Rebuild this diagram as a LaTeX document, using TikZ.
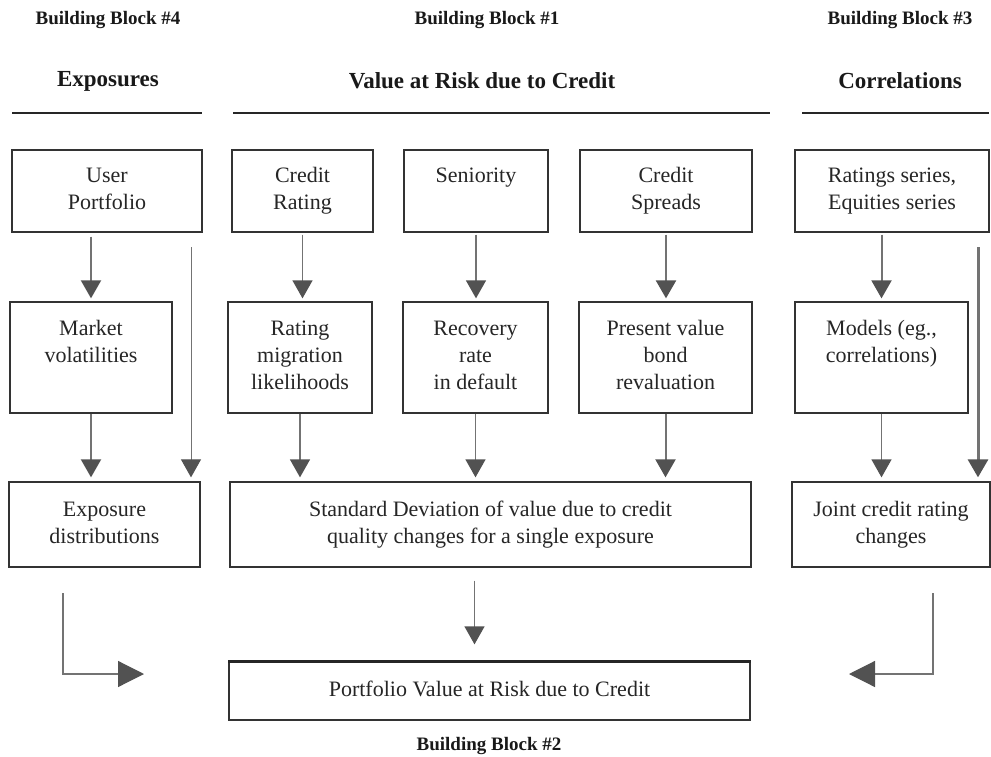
\documentclass[tikz,border=0pt]{standalone}
\usepackage{fontspec}
\setmainfont{Liberation Serif}
\usetikzlibrary{arrows.meta,calc}
\begin{document}
\begin{tikzpicture}[x=1pt,y=-1pt,
  box/.style={draw=black!80, line width=1.3pt, align=center, inner sep=0pt,
    font=\fontsize{22}{27}\selectfont, text=black!85},
  arr/.style={draw=black!55, line width=1.3pt,
    -{Triangle[length=18pt,width=20pt,color=black!68]}},
  thickarr/.style={arr, line width=2.4pt},
  bigarr/.style={draw=black!55, line width=1.2pt,
    -{Triangle[length=26pt,width=26pt,color=black!68]}},
  bbtext/.style={font=\bfseries\fontsize{19}{22}\selectfont, text=black!90},
  headtext/.style={font=\bfseries\fontsize{23}{27}\selectfont, text=black!90},
  rule/.style={draw=black!85, line width=1.6pt}]
\useasboundingbox (0,0) rectangle (991,757);
\fill[white] (0,0) rectangle (991,757);

% headers
\node[bbtext] (bb4) at (108,20) {Building Block \#4};
\node[bbtext] (bb1) at (487,20) {Building Block \#1};
\node[bbtext] (bb3) at (900,20) {Building Block \#3};
\node[headtext] (h4) at (108,81) {Exposures};
\node[headtext] (h1) at (482,81) {Value at Risk due to Credit};
\node[headtext] (h3) at (900,81) {Correlations};
\draw[rule] (12,113) -- (202,113);
\draw[rule] (233,113) -- (770,113);
\draw[rule] (802,113) -- (989,113);

% row 1
\node[box, minimum width=190pt, minimum height=82pt] (up) at (107,191) {\strut User\\\strut Portfolio};
\node[box, minimum width=141pt, minimum height=82pt] (cr) at (302.5,191) {\strut Credit\\\strut Rating};
\node[box, minimum width=144pt, minimum height=82pt] (sen) at (476,191) {\strut Seniority\\\strut};
\node[box, minimum width=172pt, minimum height=82pt] (cs) at (666,191) {\strut Credit\\\strut Spreads};
\node[box, minimum width=194pt, minimum height=82pt] (rs) at (892,191) {\strut Ratings series,\\\strut Equities series};

% row 2
\node[box, minimum width=162pt, minimum height=111pt] (mv) at (91,357.5) {\strut Market\\\strut volatilities\\\strut};
\node[box, minimum width=144pt, minimum height=111pt] (rm) at (300,357.5) {\strut Rating\\\strut migration\\\strut likelihoods};
\node[box, minimum width=145pt, minimum height=111pt] (rr) at (475.5,357.5) {\strut Recovery\\\strut rate\\\strut in default};
\node[box, minimum width=173pt, minimum height=111pt] (pv) at (665.5,357.5) {\strut Present value\\\strut bond\\\strut revaluation};
\node[box, minimum width=173pt, minimum height=111pt] (mo) at (881.5,357.5) {\strut Models (eg.,\\\strut correlations)\\\strut};

% row 3
\node[box, minimum width=191pt, minimum height=85pt] (ed) at (104.5,524.5) {\strut Exposure\\\strut distributions};
\node[box, minimum width=521pt, minimum height=85pt] (sd) at (490.5,524.5) {\strut Standard Deviation of value due to credit\\\strut quality changes for a single exposure};
\node[box, minimum width=198pt, minimum height=85pt] (jc) at (891,524.5) {\strut Joint credit rating\\\strut changes};

% row 4
\node[box, minimum width=521pt, minimum height=58pt] (pf) at (489.5,691) {\strut Portfolio Value at Risk due to Credit};
\draw[draw=black!85, line width=3pt] (pf.north west) -- (pf.north east);
\node[bbtext] (bb2) at (489,746) {Building Block \#2};

% free ends
\coordinate (l1) at (191,247);
\coordinate (l2) at (978,247);
\coordinate (bl1) at (63,593);
\coordinate (bl2) at (144,674);
\coordinate (br1) at (933,593);
\coordinate (br2) at (849,674);
\coordinate (sdp) at ($(sd.south)+(-16,0)$);

% arrows row1 -> row2
\draw[arr, line width=2pt, shorten <=4pt, shorten >=3pt] (mv.north |- up.south) -- (mv.north);
\draw[arr, shorten <=2pt, shorten >=3pt] (cr.south) -- (cr.south |- rm.north);
\draw[arr, shorten <=2pt, shorten >=3pt] (sen.south) -- (sen.south |- rr.north);
\draw[thickarr, shorten <=2pt, shorten >=3pt] (cs.south) -- (cs.south |- pv.north);
\draw[arr, line width=2pt, shorten <=2pt, shorten >=3pt] (mo.north |- rs.south) -- (mo.north);

% long side lines
\draw[arr, line width=1pt, shorten >=4pt] (l1) -- (l1 |- ed.north);
\draw[thickarr, line width=3pt, shorten >=4pt] (l2) -- (l2 |- jc.north);

% row2 -> row3
\draw[arr, line width=2pt, shorten >=4pt] (mv.south) -- (mv.south |- ed.north);
\draw[arr, shorten >=4pt] (rm.south) -- (rm.south |- sd.north);
\draw[arr, shorten >=4pt] (rr.south) -- (rr.south |- sd.north);
\draw[thickarr, line width=2pt, shorten >=4pt] (pv.south) -- (pv.south |- sd.north);
\draw[arr, shorten >=4pt] (mo.south) -- (mo.south |- jc.north);

% row3 -> portfolio
\draw[arr, shorten <=13pt, shorten >=17pt] (sdp) -- (sdp |- pf.north);
\draw[bigarr] (bl1) |- (bl2);
\draw[bigarr] (br1) |- (br2);
\end{tikzpicture}
\end{document}
